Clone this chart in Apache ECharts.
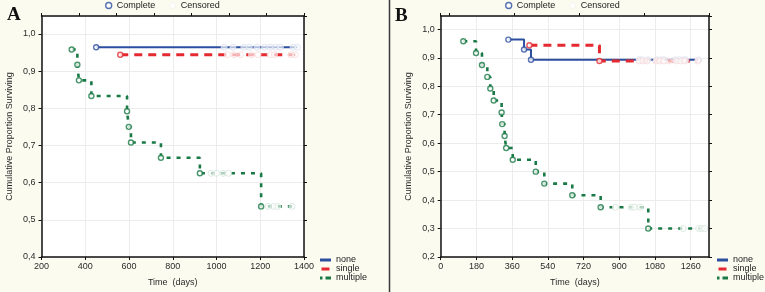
<!DOCTYPE html>
<html><head><meta charset="utf-8">
<script src="https://cdn.jsdelivr.net/npm/echarts@6/dist/echarts.min.js"></script>
<style>html,body{margin:0;padding:0;background:#fcfbf0;}#c{width:765px;height:292px;}</style>
</head><body><div id="c"></div>
<script>
// ---------- Panel A data ----------
var aXTicks = [200, 400, 600, 800, 1000, 1200, 1400];
var aNoneT = [450];
var aNoneS = [0.964];
var aNoneEnd = 1370;
var aNoneC = [1035, 1075, 1125, 1150, 1185, 1220, 1245, 1270, 1292, 1350, 1370];
var aSingleT = [560];
var aSingleS = [0.944];
var aSingleEnd = 1360;
var aSingleC = [1050, 1080, 1110, 1160, 1190, 1245, 1265, 1340, 1360];
var aMultT = [338, 364, 371, 428, 591, 599, 609, 746, 924, 1204];
var aMultS = [0.958, 0.917, 0.875, 0.833, 0.792, 0.750, 0.708, 0.667, 0.625, 0.536];
var aMultEnd = 1350;
var aMultC = [975, 1000, 1030, 1055, 1235, 1260, 1280, 1345];

// ---------- Panel B data ----------
var bXTicks = [0, 180, 360, 540, 720, 900, 1080, 1260];
var bNoneT = [341, 420, 455];
var bNoneS = [0.964, 0.929, 0.893];
var bNoneEnd = 1300;
var bNoneC = [1000, 1015, 1045, 1090, 1110, 1125, 1180, 1200, 1220, 1235, 1300];
var bSingleT = [447, 800];
var bSingleS = [0.944, 0.889];
var bSingleEnd = 1295;
var bSingleC = [1000, 1020, 1040, 1085, 1105, 1125, 1150, 1185, 1210, 1230, 1295];
var bMultT = [114, 178, 208, 235, 250, 267, 307, 310, 322, 330, 363, 479, 522, 663, 806, 1046];
var bMultS = [0.958, 0.917, 0.875, 0.833, 0.792, 0.750, 0.708, 0.667, 0.625, 0.583, 0.542, 0.500, 0.458, 0.417, 0.375, 0.300];
var bMultEnd = 1330;
var bMultC = [880, 960, 975, 1005, 1222, 1300, 1315, 1330];

var groupNames = ['none', 'single', 'multiple'];
var yTitle = 'Cumulative Proportion Surviving';
var xTitle = 'Time  (days)';

// ---------- styles ----------
var BLUE = '#2c4e9f', RED = '#e42a30', GREEN = '#1a7a46';
var PALE = {none: '#d6ddef', single: '#f7d9da', multiple: '#d3e5da'};
var COL = {none: BLUE, single: RED, multiple: GREEN};
var LS = {
  none: {width: 2, type: 'solid'},
  single: {width: 3, type: [8, 6]},
  multiple: {width: 2.6, type: [4, 6]}
};
var FONT = '"Liberation Sans", Arial, sans-serif';

function stepData(T, S, end) {
  var d = T.map(function (t, i) { return [t, S[i]]; });
  d.push([end, S[S.length - 1]]);
  return d;
}
function survAt(T, S, c) {
  var s = S[0];
  for (var i = 0; i < T.length; i++) if (T[i] <= c) s = S[i];
  return s;
}
function panelSeries(groups) {
  var lines = [], comp = [], cens = [];
  groups.forEach(function (g) {
    var n = g.name;
    lines.push({
      name: n, type: 'line', step: 'end',
      data: stepData(g.T, g.S, g.end), showSymbol: false, symbol: 'none',
      lineStyle: {color: COL[n], width: LS[n].width, type: LS[n].type, cap: 'butt'},
      itemStyle: {color: COL[n]}, z: 2, silent: true
    });
    cens.push({
      name: 'Censored', type: 'scatter',
      data: g.C.map(function (c) { return [c, survAt(g.T, g.S, c)]; }),
      symbol: 'circle', symbolSize: 6,
      itemStyle: {color: 'rgba(255,255,255,0.8)', borderColor: PALE[n], borderWidth: 1},
      z: 3, silent: true
    });
    comp.push({
      name: 'Complete', type: 'scatter',
      data: g.T.map(function (t, i) { return [t, g.S[i]]; }),
      symbol: 'circle', symbolSize: 5,
      itemStyle: {color: '#ffffff', borderColor: COL[n], borderWidth: 1.4},
      z: 4, silent: true
    });
  });
  return lines.concat(comp, cens);
}

var commaFmt = function (v) { return v.toFixed(1).replace('.', ','); };
var plainFmt = function (v) { return String(Math.round(v)); };
var tickStyle = {show: true, length: 3, lineStyle: {color: '#111', width: 1}};
var axisLine = {show: true, lineStyle: {color: '#111', width: 1.5}};
var split = {show: true, lineStyle: {color: '#ececec', width: 1}};
var lab = {fontFamily: FONT, fontSize: 9, color: '#2a2a2a'};

function xMain(grid, min, max, interval, gap, showMax) {
  return {type: 'value', gridIndex: grid, min: min, max: max, interval: interval, position: 'bottom',
    axisLine: axisLine, axisTick: tickStyle, splitLine: split,
    axisLabel: Object.assign({margin: 5, showMaxLabel: showMax, formatter: plainFmt}, lab),
    name: xTitle, nameLocation: 'middle', nameGap: gap,
    nameTextStyle: {fontFamily: FONT, fontSize: 9, color: '#2a2a2a'}};
}
function yMain(grid, min, max, gap) {
  return {type: 'value', gridIndex: grid, min: min, max: max, interval: 0.1, position: 'left',
    axisLine: axisLine, axisTick: tickStyle, splitLine: split,
    axisLabel: Object.assign({margin: 6, formatter: commaFmt, showMaxLabel: false}, lab),
    name: yTitle, nameLocation: 'middle', nameGap: gap, nameRotate: 90,
    nameTextStyle: {fontFamily: FONT, fontSize: 9, color: '#2a2a2a'}};
}
function yRight(grid, min, max) {
  return {type: 'value', gridIndex: grid, min: min, max: max, interval: 0.1, position: 'right',
    axisLine: axisLine, axisTick: tickStyle, splitLine: {show: false}, axisLabel: {show: false}};
}
function xTop(grid, min, max, inverse) {
  return {type: 'value', gridIndex: grid, min: min, max: max, interval: 1, position: 'top', inverse: inverse,
    axisLine: axisLine, axisTick: tickStyle, splitLine: {show: false}, axisLabel: {show: false}};
}

var aGroups = [
  {name: 'none', T: aNoneT, S: aNoneS, end: aNoneEnd, C: aNoneC},
  {name: 'single', T: aSingleT, S: aSingleS, end: aSingleEnd, C: aSingleC},
  {name: 'multiple', T: aMultT, S: aMultS, end: aMultEnd, C: aMultC}
];
var bGroups = [
  {name: 'none', T: bNoneT, S: bNoneS, end: bNoneEnd, C: bNoneC},
  {name: 'single', T: bSingleT, S: bSingleS, end: bSingleEnd, C: bSingleC},
  {name: 'multiple', T: bMultT, S: bMultS, end: bMultEnd, C: bMultC}
];

function topLegend(left) {
  return {left: left, top: 1, padding: 0, orient: 'horizontal', itemWidth: 6, itemHeight: 6, itemGap: 14,
    selectedMode: false, textStyle: {fontFamily: FONT, fontSize: 9, color: '#222'},
    data: [
      {name: 'Complete', icon: 'circle', itemStyle: {color: '#fff', borderColor: BLUE, borderWidth: 1.4}},
      {name: 'Censored', icon: 'circle', itemStyle: {color: '#fff', borderColor: '#f3f1ea', borderWidth: 1}}
    ]};
}
function bottomLegend(left) {
  return {left: left, top: 255.5, padding: 0, orient: 'vertical', itemWidth: 11, itemHeight: 3, itemGap: 0,
    selectedMode: false, textStyle: {fontFamily: FONT, fontSize: 9, color: '#222', lineHeight: 8.5},
    data: [
      {name: 'none', icon: 'rect', itemStyle: {color: BLUE, borderWidth: 0}},
      {name: 'single', icon: 'path://M0,0h8v3h-8z', itemStyle: {color: RED, borderWidth: 0}},
      {name: 'multiple', icon: 'path://M0,0h2.5v3h-2.5z M5.5,0h5.5v3h-5.5z', itemStyle: {color: GREEN, borderWidth: 0}}
    ]};
}

var chart = echarts.init(document.getElementById('c'), null, {renderer: 'canvas'});
chart.setOption({
  animation: false,
  backgroundColor: '#fcfbf0',
  grid: [
    {left: 41.5, top: 16, width: 262.5, height: 244, show: true, backgroundColor: '#ffffff', borderWidth: 0},
    {left: 440.7, top: 16, width: 268.3, height: 244, show: true, backgroundColor: '#ffffff', borderWidth: 0}
  ],
  xAxis: [
    xMain(0, aXTicks[0], aXTicks[aXTicks.length - 1], 200, 21, true),
    xTop(0, 0, 7, false),
    xMain(1, bXTicks[0], 1352, 180, 21, false),
    xTop(1, 0, 4.128, true)
  ],
  yAxis: [
    yMain(0, 0.4, 1.048, 27),
    yRight(0, 0.4, 1.048),
    yMain(1, 0.2, 1.047, 28),
    yRight(1, 0.2, 1.047)
  ],
  legend: [topLegend(105), bottomLegend(320), topLegend(505), bottomLegend(717)],
  graphic: [
    {type: 'line', shape: {x1: 389.5, y1: 0, x2: 389.5, y2: 292}, style: {stroke: '#3a3a3a', lineWidth: 1.5}},
    {type: 'text', left: 7, top: 6, style: {text: 'A', font: 'bold 19px "Liberation Serif", "DejaVu Serif", serif', fill: '#111'}},
    {type: 'text', left: 395, top: 7, style: {text: 'B', font: 'bold 19px "Liberation Serif", "DejaVu Serif", serif', fill: '#111'}}
  ],
  series: panelSeries(aGroups).map(function (s) { s.xAxisIndex = 0; s.yAxisIndex = 0; return s; })
    .concat(panelSeries(bGroups).map(function (s) { s.xAxisIndex = 2; s.yAxisIndex = 2; return s; }))
});
</script>
</body></html>
